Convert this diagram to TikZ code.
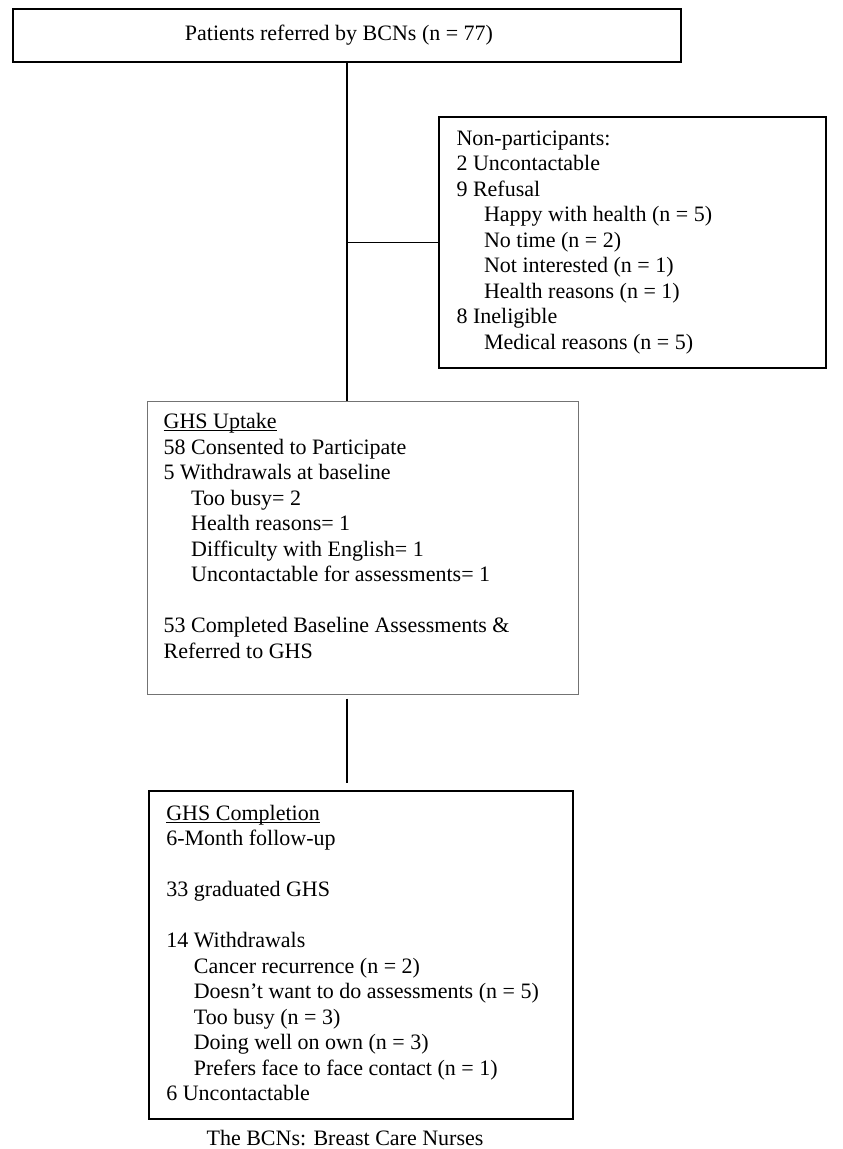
\documentclass[tikz,border=0pt]{standalone}
\usepackage{fontspec}
\setmainfont{Liberation Serif}
\newcommand{\ind}{\hspace*{27.5pt}}
\newcommand{\ulword}[1]{\setbox0\hbox{#1}\rlap{\rule[-2.6pt]{\wd0}{1pt}}\box0}

\begin{document}
\begin{tikzpicture}[x=1pt,y=-1pt,
    every node/.style={font=\fontsize{22}{25.5}\selectfont},
    box/.style={draw=black,line width=1.3pt,inner sep=0pt},
    softbox/.style={draw=black!55,line width=1pt,inner sep=0pt},
    boxtext/.style={anchor=north west,inner sep=0pt,align=left},
    link/.style={line width=1.7pt}]
    \useasboundingbox (0,0) rectangle (843,1149);
    % boxes
    \node[box,line width=1.7pt,minimum width=668pt,minimum height=53pt] (referred) at (347,35.5) {};
    \node[inner sep=0pt] (referredtext) at ([xshift=-8pt]referred.center) {Patients referred by BCNs (n = 77)};
    \node[box,minimum width=387pt,minimum height=251pt] (nonpart) at (632.5,242.5) {};
    \node[softbox,minimum width=431pt,minimum height=293pt] (uptake) at (362.5,547.5) {};
    \node[box,line width=1.7pt,minimum width=424pt,minimum height=328pt] (completion) at (361,955) {};
    % box texts
    \node[boxtext] (nonparttext) at ([xshift=18pt,yshift=-11pt]nonpart.north west) {\strut Non-participants:\\
      2 Uncontactable\\
      9 Refusal\\
      \ind Happy with health (n = 5)\\
      \ind No time (n = 2)\\
      \ind Not interested (n = 1)\\
      \ind Health reasons (n = 1)\\
      8 Ineligible\\
      \ind Medical reasons (n = 5)};
    \node[boxtext] (uptaketext) at ([xshift=17pt,yshift=-10pt]uptake.north west) {\strut\ulword{GHS Uptake}\\
      58 Consented to Participate\\
      5 Withdrawals at baseline\\
      \ind Too busy= 2\\
      \ind Health reasons= 1\\
      \ind Difficulty with English= 1\\
      \ind Uncontactable for assessments= 1\\[25.5pt]
      53 Completed Baseline Assessments \&\\
      Referred to GHS};
    \node[boxtext] (completiontext) at ([xshift=18pt,yshift=-12pt]completion.north west) {\strut\ulword{GHS Completion}\\
      6-Month follow-up\\[25.5pt]
      33 graduated GHS\\[25.5pt]
      14 Withdrawals\\
      \ind Cancer recurrence (n = 2)\\
      \ind Doesn’t want to do assessments (n = 5)\\
      \ind Too busy (n = 3)\\
      \ind Doing well on own (n = 3)\\
      \ind Prefers face to face contact (n = 1)\\
      6 Uncontactable};
    \node (caption) at (345,1138) {The BCNs: Breast Care Nurses};
    % connectors
    \draw[link] (referred.south) -- (referred.south |- uptake.north);
    \draw[link] (referred.south |- nonpart.west) -- (nonpart.west);
    \draw[link] ([yshift=-4pt]uptake.south -| referred.south) -- ([yshift=7pt]completion.north -| referred.south);
\end{tikzpicture}
\end{document}
